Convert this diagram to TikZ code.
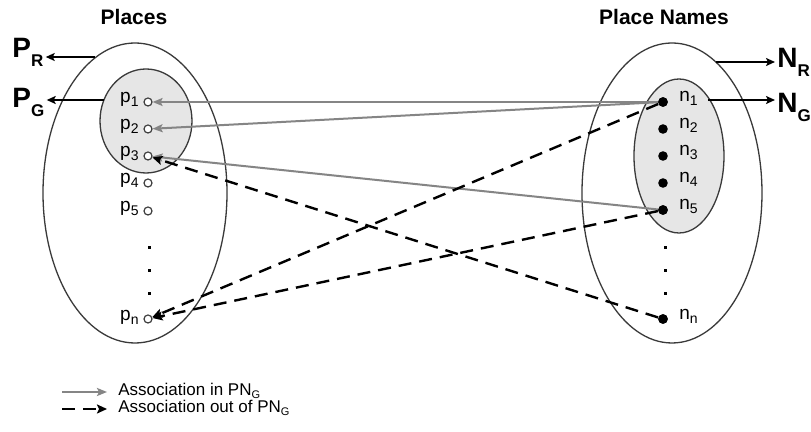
\documentclass[tikz,border=0pt]{standalone}
\usepackage{fontspec}
\setmainfont{Liberation Sans}
\usetikzlibrary{arrows.meta}
\newcommand\smsub[1]{\raisebox{-2pt}{\fontsize{7}{7}\selectfont #1}}
\newcommand\bgsub[1]{\raisebox{-4.5pt}{\fontsize{8.5}{9}\selectfont\bfseries #1}}
\newcommand\lgsub[1]{\raisebox{-1.3pt}{\fontsize{5.5}{5.5}\selectfont #1}}
\definecolor{ellcol}{HTML}{3A3A3A}
\definecolor{innerfill}{HTML}{E6E6E6}
\definecolor{assocgray}{HTML}{858585}
\tikzset{
  ellline/.style={draw=ellcol, line width=0.65pt},
  pcirc/.style={circle, draw=black!75, line width=0.6pt, fill=white, minimum size=4pt, inner sep=0pt},
  ndot/.style={circle, fill=black, minimum size=4.8pt, inner sep=0pt},
  vdot/.style={rectangle, fill=black, minimum size=1.5pt, inner sep=0pt},
  plbl/.style={inner sep=0pt, font=\fontsize{9.5}{10}\selectfont},
  biglbl/.style={inner sep=1pt, font=\fontsize{14}{16}\selectfont\bfseries},
  titlelbl/.style={inner sep=0pt, font=\fontsize{10.5}{12}\selectfont\bfseries},
  legendlbl/.style={inner sep=0pt, font=\fontsize{8.5}{9}\selectfont},
  associn/.style={draw=assocgray, line width=1pt, -{Stealth[length=5pt,width=4pt,inset=1pt]}},
  assocout/.style={draw=black, line width=1.2pt, dash pattern=on 6.5pt off 4pt, -{Stealth[length=5pt,width=4.5pt,inset=1pt]}},
  setarr/.style={draw=black, line width=0.9pt, -{Stealth[length=4.5pt,width=4pt,inset=1pt]}}
}
\begin{document}
\begin{tikzpicture}[x=0.5pt, y=-0.5pt]
\useasboundingbox[fill=white] (0,0) rectangle (811,432);

% titles
\node[titlelbl, anchor=base] (tplaces) at (134,25) {Places};
\node[titlelbl, anchor=base] (tnames) at (664,25) {Place Names};

% ellipses
\fill[innerfill] (146,121) ellipse [x radius=46, y radius=52];
\draw[ellline] (146,121) ellipse [x radius=46, y radius=52];
\draw[ellline] (135,193) ellipse [x radius=92, y radius=150];
\fill[innerfill] (679,156) ellipse [x radius=45, y radius=77];
\draw[ellline] (679,156) ellipse [x radius=45, y radius=77];
\draw[ellline] (672,193) ellipse [x radius=90, y radius=150];

% place circles
\node[pcirc] (p1) at (148,102) {};
\node[pcirc] (p2) at (148,129) {};
\node[pcirc] (p3) at (148,156) {};
\node[pcirc] (p4) at (148,183) {};
\node[pcirc] (p5) at (148,211) {};
\node[pcirc] (pn) at (148,319) {};
\node[vdot] (pd1) at (149,248) {};
\node[vdot] (pd2) at (149,271) {};
\node[vdot] (pd3) at (149,294) {};
\node[plbl, anchor=base east] (lp1) at (139,103) {p\smsub{1}};
\node[plbl, anchor=base east] (lp2) at (139,130) {p\smsub{2}};
\node[plbl, anchor=base east] (lp3) at (139,157) {p\smsub{3}};
\node[plbl, anchor=base east] (lp4) at (139,184) {p\smsub{4}};
\node[plbl, anchor=base east] (lp5) at (139,212) {p\smsub{5}};
\node[plbl, anchor=base east] (lpn) at (139,321) {p\smsub{n}};

% name dots
\node[ndot] (n1) at (663,102) {};
\node[ndot] (n2) at (663,129) {};
\node[ndot] (n3) at (663,156) {};
\node[ndot] (n4) at (663,183) {};
\node[ndot] (n5) at (663,210) {};
\node[ndot] (nn) at (663,319) {};
\node[vdot] (nd1) at (665,248) {};
\node[vdot] (nd2) at (665,271) {};
\node[vdot] (nd3) at (665,294) {};
\node[plbl, anchor=base west] (ln1) at (679,102) {n\smsub{1}};
\node[plbl, anchor=base west] (ln2) at (679,129) {n\smsub{2}};
\node[plbl, anchor=base west] (ln3) at (679,156) {n\smsub{3}};
\node[plbl, anchor=base west] (ln4) at (679,183) {n\smsub{4}};
\node[plbl, anchor=base west] (ln5) at (679,210) {n\smsub{5}};
\node[plbl, anchor=base west] (lnn) at (679,320) {n\smsub{n}};

% set labels
\node[biglbl, anchor=base west] (PR) at (10,58) {P\bgsub{R}};
\node[biglbl, anchor=base west] (PG) at (10,108) {P\bgsub{G}};
\node[biglbl, anchor=base west] (NR) at (775,68) {N\bgsub{R}};
\node[biglbl, anchor=base west] (NG) at (775,113) {N\bgsub{G}};
\coordinate (cPR) at (95,57);
\coordinate (cPG) at (104,100);
\coordinate (cNR) at (716,62);
\coordinate (cNG) at (708,100);
\draw[setarr] (cPR) -- (PR.east |- cPR);
\draw[setarr] (cPG) -- (PG.east |- cPG);
\draw[setarr] (cNR) -- (NR.west |- cNR);
\draw[setarr] (cNG) -- (NG.west |- cNG);

% associations
\draw[associn] (n1) -- (p1);
\draw[associn] (n1) -- (p2);
\draw[associn] (n5) -- (p3);
\draw[assocout] (n1) -- (pn);
\draw[assocout] (n5) -- (pn);
\draw[assocout] (nn) -- (p3);

% redraw dots on top
\node[ndot] at (n1) {};
\node[ndot] at (n5) {};
\node[ndot] at (nn) {};

% legend
\coordinate (lg1a) at (62,392);
\coordinate (lg1b) at (107,392);
\coordinate (lg2a) at (62,409);
\coordinate (lg2b) at (107,409);
\draw[associn] (lg1a) -- (lg1b);
\draw[assocout] (lg2a) -- (lg2b);
\node[legendlbl, anchor=base west] (leg1) at (118,396) {Association in PN\lgsub{G}};
\node[legendlbl, anchor=base west] (leg2) at (118,413) {Association out of PN\lgsub{G}};
\end{tikzpicture}
\end{document}
